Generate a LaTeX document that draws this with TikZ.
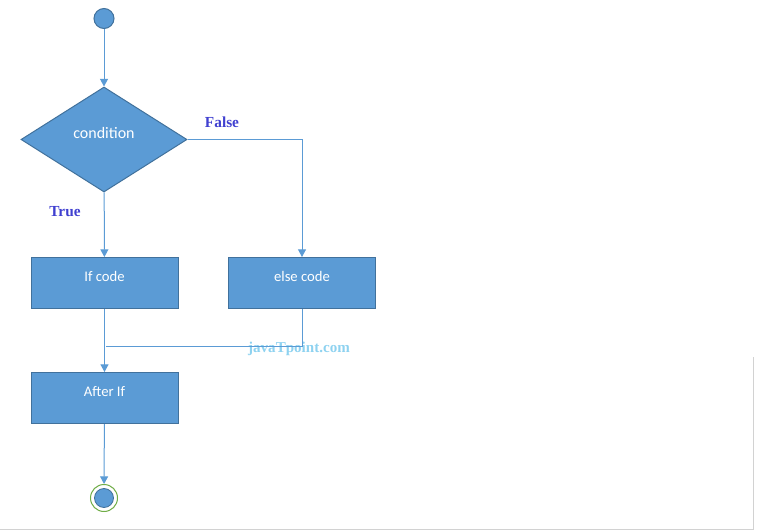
\documentclass[tikz,border=0pt]{standalone}
\usepackage{fontspec}
\setmainfont{Carlito}
\newfontfamily\serifbold{Liberation Serif}
\usetikzlibrary{shapes.geometric, arrows.meta}
\newcommand{\unitsize}{0.75pt}
\definecolor{boxfill}{RGB}{91,155,213}
\definecolor{boxline}{RGB}{65,113,156}
\definecolor{ringgreen}{RGB}{112,173,71}
\definecolor{branchblue}{RGB}{64,64,208}
\definecolor{markblue}{RGB}{142,210,240}

\begin{document}
\begin{tikzpicture}
\useasboundingbox (0,0) rectangle (757*\unitsize,-531*\unitsize);
\tikzstyle{flowbox}=[draw=boxline, fill=boxfill, rectangle, line width=1*\unitsize,
			minimum width=147*\unitsize, inner sep=0pt, text=white,
			font=\fontsize{11}{13}\selectfont,
			text height=18pt, text depth=20.25pt
			]
\tikzstyle{flow}=[draw=boxfill, line width=1*\unitsize, -{Triangle[width=6pt,length=5.75pt]}]
\tikzstyle{link}=[draw=boxfill, line width=1*\unitsize]
\tikzstyle{branch}=[text=branchblue, font=\serifbold\bfseries\fontsize{11.5}{14}\selectfont]

\draw[gray!35, line width=1*\unitsize] (0,-529.5*\unitsize) -- (753.5*\unitsize,-529.5*\unitsize) -- (753.5*\unitsize,-357*\unitsize);

\node[circle, draw=boxline, fill=boxfill, minimum size=20*\unitsize, inner sep=0pt, line width=1*\unitsize] (start) at (104*\unitsize,-18.5*\unitsize) {};

\node[diamond, draw=boxline, fill=boxfill, minimum width=166*\unitsize, minimum height=105*\unitsize, inner sep=0pt, line width=1*\unitsize,
	label={[text=white, font=\fontsize{12}{14}\selectfont, yshift=6.5*\unitsize]center:condition}] (cond) at (104*\unitsize,-139.5*\unitsize) {};

\node[flowbox] (ifcode) at (104.5*\unitsize,-283*\unitsize) {If code};

\node[flowbox] (elsecode) at (302*\unitsize,-283*\unitsize) {else code};

\node[flowbox] (afterif) at (104.5*\unitsize,-398*\unitsize) {After If};

\node[circle, draw=ringgreen, fill=white, minimum size=27*\unitsize, inner sep=0pt, line width=1*\unitsize] (stop) at (104*\unitsize,-498*\unitsize) {};

\node[circle, draw=boxline, fill=boxfill, minimum size=19*\unitsize, inner sep=0pt, line width=0.8*\unitsize] (stopdot) at (stop) {};

\coordinate (merge) at (105.5*\unitsize,-346*\unitsize);

\node[branch] (falselabel) at (222*\unitsize,-122*\unitsize) {False};

\node[branch] (truelabel) at (65*\unitsize,-212*\unitsize) {True};

\node[text=markblue, font=\serifbold\bfseries\fontsize{11.3}{14}\selectfont] (mark) at (299*\unitsize,-349*\unitsize) {javaTpoint.com};

\draw[flow] (start) -- (cond);

\draw[flow] (cond) -- (ifcode);

\draw[flow] (cond.east) -| (elsecode);

\draw[flow] (ifcode) -- (afterif);

\draw[link] (elsecode) |- (merge);

\draw[flow] (afterif) -- (stop);

\end{tikzpicture}
\end{document}
